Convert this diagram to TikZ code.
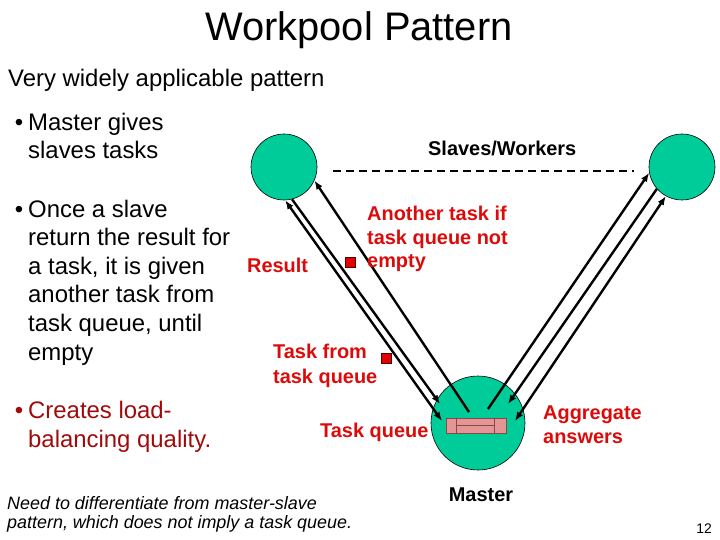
\documentclass[tikz,border=0pt]{standalone}
\usepackage{fontspec}
\setmainfont{Liberation Sans}
\usetikzlibrary{arrows.meta,positioning,calc}

\definecolor{workergreen}{RGB}{0,204,153}
\definecolor{labelred}{RGB}{221,10,10}
\definecolor{darkred}{RGB}{160,10,10}
\definecolor{queuepink}{RGB}{228,150,150}
\definecolor{queueedge}{RGB}{140,70,70}

\begin{document}
\begin{tikzpicture}[
    x=1bp, y=-1bp,
    worker/.style={
        circle,
        draw,
        line width=0.6bp,
        fill=workergreen,
        minimum size=66bp,
        inner sep=0pt
    },
    bodytext/.style={
        anchor=base west,
        align=left,
        inner sep=0pt,
        font=\fontsize{24}{28.7}\selectfont
    },
    tag/.style={
        anchor=base west,
        align=left,
        inner sep=0pt,
        text=labelred,
        font=\bfseries\fontsize{20}{24}\selectfont
    },
    msg/.style={
        draw=black!70!red,
        fill=red!90!black,
        minimum size=10bp,
        inner sep=0pt
    },
    flow/.style={
        -{Latex[length=9bp,width=7bp]},
        line width=2.4bp
    },
    twoway/.style={
        {Latex[length=9bp,width=7bp]}-{Latex[length=9bp,width=7bp]},
        line width=2.4bp
    }
]

\useasboundingbox (0,0) rectangle (720,540);

% ------------------------------------------------------------------
% Slide text (multi-line nodes sit on their last baseline)
% ------------------------------------------------------------------

\node[anchor=base, inner sep=0pt, font=\fontsize{40}{46}\selectfont] (title)
    at (359,41) {Workpool Pattern};

\node[bodytext] (subtitle) at (8,87)
    {Very widely applicable pattern};

\node[bodytext] (pointa) at (28,159)
    {\llap{\textbullet\hspace{5bp}}Master gives\\slaves tasks};

\node[bodytext] (pointb) at (28,360)
    {\llap{\textbullet\hspace{5bp}}Once a slave\\
     return the result for\\
     a task, it is given\\
     another task from\\
     task queue, until\\
     empty};

\node[bodytext, text=darkred] (pointc) at (28,447)
    {\llap{\textbullet\hspace{5bp}}Creates load-\\balancing quality.};

\node[anchor=base west, align=left, inner sep=0pt,
      font=\itshape\fontsize{18}{19}\selectfont] (note) at (7,528)
    {Need to differentiate from master-slave\\
     pattern, which does not imply a task queue.};

\node[anchor=base east, inner sep=0pt, font=\fontsize{14}{16}\selectfont] (pageno)
    at (712,533) {12};

% ------------------------------------------------------------------
% Workers and master
% ------------------------------------------------------------------

\node[worker] (slavel) at (284,167) {};
\node[worker] (slaver) at (682,167) {};
\node[worker, minimum size=94bp] (master) at (478,423) {};

\node[draw=queueedge, fill=queuepink, line width=0.6bp,
      minimum width=60bp, minimum height=15bp, inner sep=0pt] (queue)
    at (476,425.5) {};
\draw[queueedge, line width=0.6bp]
    ($(queue.north west)+(11,0)$) -- ($(queue.south west)+(11,0)$)
    ($(queue.north east)+(-12,0)$) -- ($(queue.south east)+(-12,0)$)
    ($(queue.west)+(11,0)$) -- ($(queue.east)+(-12,0)$);

\draw[dashed, dash pattern=on 8bp off 5bp, line width=2.2bp]
    ($(slavel.east)+(16,4)$) coordinate (dashl) -- ($(slaver.west)+(-15,4)$) coordinate (dashr);

\node[anchor=base west, inner sep=0pt, font=\bfseries\fontsize{20}{24}\selectfont]
    (workers) at (428,156) {Slaves/Workers};

\node[inner sep=0pt, font=\bfseries\fontsize{20}{24}\selectfont,
      below=17bp of master, xshift=3bp] (masterlabel) {Master};

% ------------------------------------------------------------------
% Messages between master and workers
% ------------------------------------------------------------------

\coordinate (ml1) at (442,421);
\coordinate (ml2) at (440,404);
\coordinate (ml3) at (469,412);
\coordinate (mr1) at (488,409);
\coordinate (mr2) at (508,404);
\coordinate (mr3) at (515,421);

\draw[twoway] (slavel.-88) -- (ml1);
\draw[flow] (slavel.-76) -- (ml2);
\draw[flow] (ml3) -- (slavel.-24);

\draw[flow] (mr1) -- (slaver.190);
\draw[flow] (slaver.221) -- (mr2);
\draw[twoway] (mr3) -- (slaver.241);

\node[msg] (resultmsg) at (350,262) {};
\node[msg] (taskmsg) at (386,358) {};

\node[tag] (another) at (367,268)
    {Another task if\\task queue not\\empty};
\node[tag] (result) at (247,273) {Result};
\node[tag, font=\bfseries\fontsize{20}{25}\selectfont] (taskfrom) at (273,383)
    {Task from\\task queue};
\node[tag] (queuelabel) at (320,437) {Task queue};
\node[tag] (aggregate) at (543,443) {Aggregate\\answers};

\end{tikzpicture}
\end{document}
